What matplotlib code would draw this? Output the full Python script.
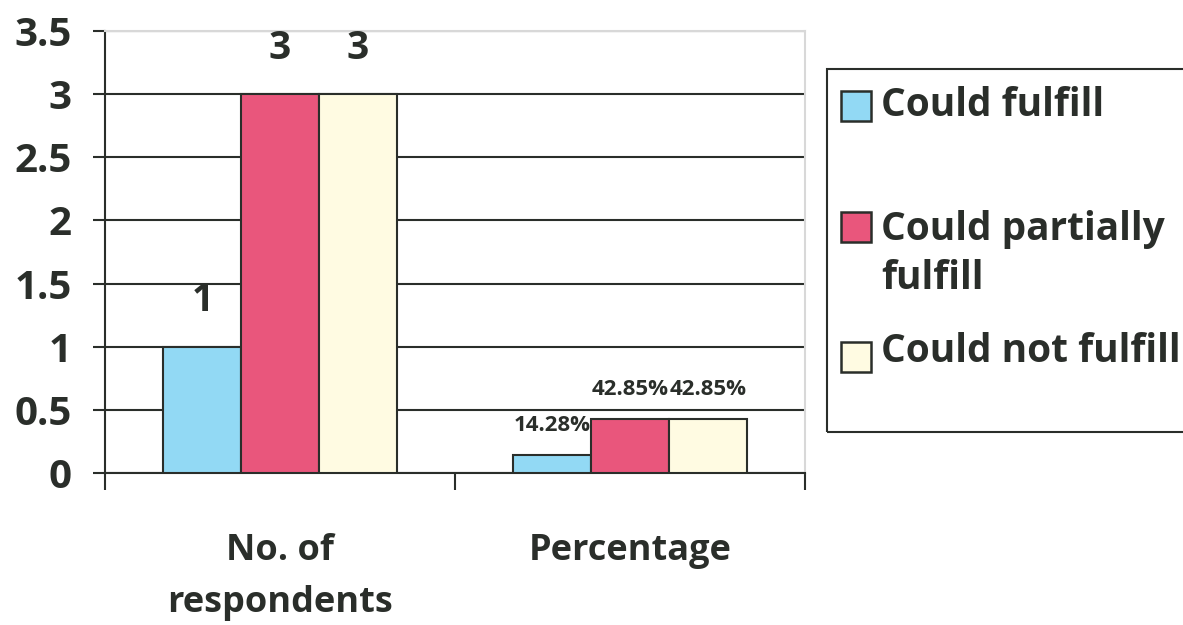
import numpy as np
from matplotlib import pyplot as plt
from matplotlib.patches import Rectangle

# Datos de la encuesta
categorias = ['No. of\nrespondents', 'Percentage']
series = ['Could fulfill', 'Could partially\nfulfill', 'Could not fulfill']
pudo = [1, 0.1428]
parcial = [3, 0.4285]
no_pudo = [3, 0.4285]
etiquetas = [['1', '14.28%'], ['3', '42.85%'], ['3', '42.85%']]

colores = ['#92d9f4', '#e9567c', '#fffbe2']
borde = '#2a2e2a'
texto = '#2a2e2a'

plt.rcParams['font.family'] = ['Open Sans', 'DejaVu Sans']
plt.rcParams['font.weight'] = 'bold'

fig = plt.figure(figsize=(11.83, 6.25), dpi=100)
ax = fig.add_axes([105 / 1183, 152 / 625, 700 / 1183, 442 / 625])

x = np.arange(len(categorias))
ancho = 0.222
valores = [pudo, parcial, no_pudo]
for i, (vals, col) in enumerate(zip(valores, colores)):
    pos = x + (i - 1) * ancho
    ax.bar(pos, vals, ancho, color=col, edgecolor=borde, linewidth=1.5, zorder=3)
    for j, (p, v) in enumerate(zip(pos, vals)):
        if j == 0:
            ax.annotate(etiquetas[i][j], (p, v), xytext=(0, 33), textcoords='offset points',
                        ha='center', va='center', fontsize=28, color=texto, fontweight='bold')
        else:
            ax.annotate(etiquetas[i][j], (p, v), xytext=(0, 21), textcoords='offset points',
                        ha='center', va='center', fontsize=16, color=texto, fontweight='bold')

ax.set_ylim(0, 3.5)
ax.set_xlim(-0.5, 1.5)
ax.set_yticks(np.arange(0, 3.51, 0.5))
ax.set_yticklabels(['0', '0.5', '1', '1.5', '2', '2.5', '3', '3.5'])
ax.yaxis.grid(True, color=borde, linewidth=1.5, zorder=0)
ax.set_axisbelow(True)

ax.set_xticks(x)
ax.set_xticklabels(categorias, linespacing=1.6, va='top')
ax.set_xticks([-0.5, 0.5, 1.5], minor=True)
ax.tick_params(axis='x', which='major', length=0, pad=43, labelsize=26, labelcolor=texto)
ax.tick_params(axis='x', which='minor', length=12, width=1.5, color=borde, direction='out')
ax.tick_params(axis='y', length=9, width=1.5, color=borde, pad=15, labelsize=29, labelcolor=texto)

for s in ['left', 'bottom']:
    ax.spines[s].set_color(borde)
    ax.spines[s].set_linewidth(1.5)
for s in ['top', 'right']:
    ax.spines[s].set_color('#d8d8d8')
    ax.spines[s].set_linewidth(1.5)
ax.spines['left'].set_bounds(0, 3.5)

# Leyenda dibujada a mano
H = 625
fig.patches.append(Rectangle((827 / 1183, (H - 432) / H), 400 / 1183, 363 / H,
                             transform=fig.transFigure, fill=False, edgecolor=borde,
                             linewidth=1.5, clip_on=False))
filas = [106, 227, 357]
textos_y = [106, 254, 352]
for col, nombre, yc, yt in zip(colores, series, filas, textos_y):
    fig.patches.append(Rectangle((841 / 1183, (H - yc - 15) / H), 30 / 1183, 30 / H,
                                 transform=fig.transFigure, facecolor=col, edgecolor=borde,
                                 linewidth=1.8))
    fig.text(881 / 1183, (H - yt) / H, nombre, fontsize=28, color=texto, fontweight='bold',
             va='center', ha='left', linespacing=1.33)

plt.savefig('out.png')
